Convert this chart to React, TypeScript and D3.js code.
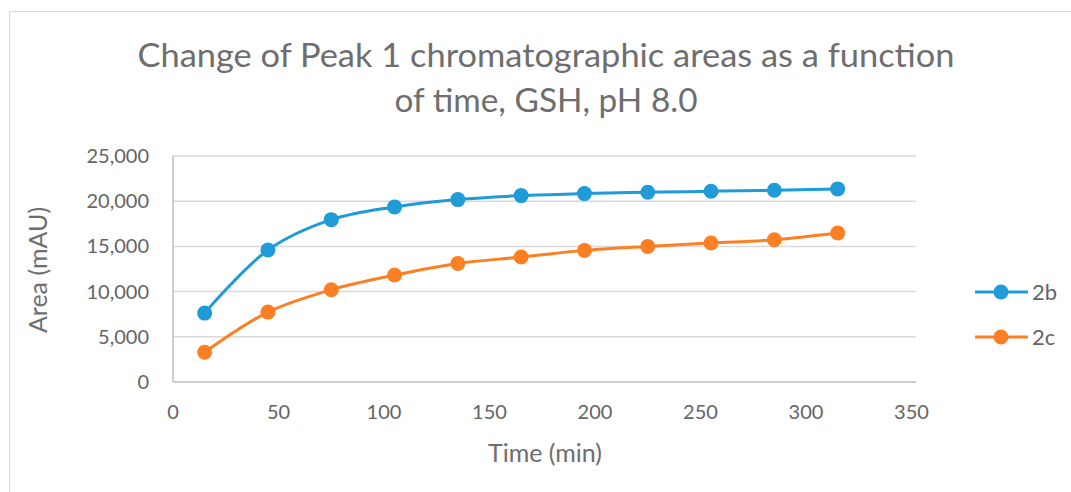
import React from "react";
import * as d3 from "d3";

const times = [15, 45, 75, 105, 135, 165, 195, 225, 255, 285, 315];
const series2b = [7620, 14600, 17960, 19370, 20180, 20620, 20840, 20990, 21100, 21210, 21360];
const series2c = [3290, 7730, 10200, 11830, 13120, 13820, 14560, 15000, 15380, 15740, 16490];
const seriesNames = ["2b", "2c"];
const seriesColors = ["#1f9bd7", "#fd7f23"];
const xTicks = [0, 50, 100, 150, 200, 250, 300, 350];
const yTicks = [0, 5000, 10000, 15000, 20000, 25000];
const titleLines = ["Change of Peak 1 chromatographic areas as a function", "of time, GSH, pH 8.0"];
const titleWidths = [817, 303];

export default function App() {
  const W = 1071, H = 492;
  const x = d3.scaleLinear().domain([0, 350]).range([173, 911.5]);
  const y = d3.scaleLinear().domain([0, 25000]).range([382, 156]);
  const fmt = d3.format(",");
  const font = "Lato, 'Open Sans', sans-serif";
  const grey = "#646464";
  const titleGrey = "#6e6e6e";
  const all = [series2b, series2c];
  const line = d3
    .line<[number, number]>()
    .x((d) => x(d[0]))
    .y((d) => y(d[1]))
    .curve(d3.curveCatmullRom.alpha(0.5));

  return (
    <svg width={W} height={H} style={{ position: "absolute", left: 0, top: 0, background: "#fff" }}>
      <rect x={9.5} y={11.5} width={W + 10} height={H + 10} fill="#fff" stroke="#d9d9d9" strokeWidth={1} />
      {titleLines.map((t, i) => (
        <text
          key={i}
          x={546}
          y={67 + i * 45}
          textAnchor="middle"
          fontFamily={font}
          fontSize={32}
          fill={titleGrey}
          textLength={titleWidths[i]}
          lengthAdjust="spacingAndGlyphs"
        >
          {t}
        </text>
      ))}
      {yTicks.map((v) => (
        <g key={v}>
          {v !== 0 && <line x1={173} x2={916} y1={y(v)} y2={y(v)} stroke="#d9d9d9" strokeWidth={1.5} />}
          <text x={149} y={y(v)} dy="0.35em" textAnchor="end" fontFamily={font} fontSize={20} fill={grey}>
            {fmt(v)}
          </text>
        </g>
      ))}
      <line x1={173} x2={173} y1={156} y2={382} stroke="#bfbfbf" strokeWidth={1.5} />
      <line x1={173} x2={916} y1={382} y2={382} stroke="#bfbfbf" strokeWidth={1.5} />
      {xTicks.map((v) => (
        <text key={v} x={x(v)} y={412} dy="0.35em" textAnchor="middle" fontFamily={font} fontSize={20} fill={grey}>
          {v}
        </text>
      ))}
      <text x={545} y={462} textAnchor="middle" fontFamily={font} fontSize={25} fill={titleGrey}>
        Time (min)
      </text>
      <text
        transform={`translate(38,270) rotate(-90)`}
        textAnchor="middle"
        dy="0.35em"
        fontFamily={font}
        fontSize={25}
        fill={titleGrey}
      >
        Area (mAU)
      </text>
      {all.map((s, si) => {
        const pts: [number, number][] = times.map((t, i) => [t, s[i]]);
        return (
          <g key={si}>
            <path d={line(pts) || ""} fill="none" stroke={seriesColors[si]} strokeWidth={3} />
            {pts.map((p, i) => (
              <circle key={i} cx={x(p[0])} cy={y(p[1])} r={7.5} fill={seriesColors[si]} />
            ))}
          </g>
        );
      })}
      {seriesNames.map((n, i) => (
        <g key={n} transform={`translate(0, ${292 + i * 45})`}>
          <line x1={975} x2={1028} y1={0} y2={0} stroke={seriesColors[i]} strokeWidth={3} />
          <circle cx={1001} cy={0} r={7.5} fill={seriesColors[i]} />
          <text x={1032} y={0} dy="0.35em" fontFamily={font} fontSize={22} fill={grey}>
            {n}
          </text>
        </g>
      ))}
    </svg>
  );
}
